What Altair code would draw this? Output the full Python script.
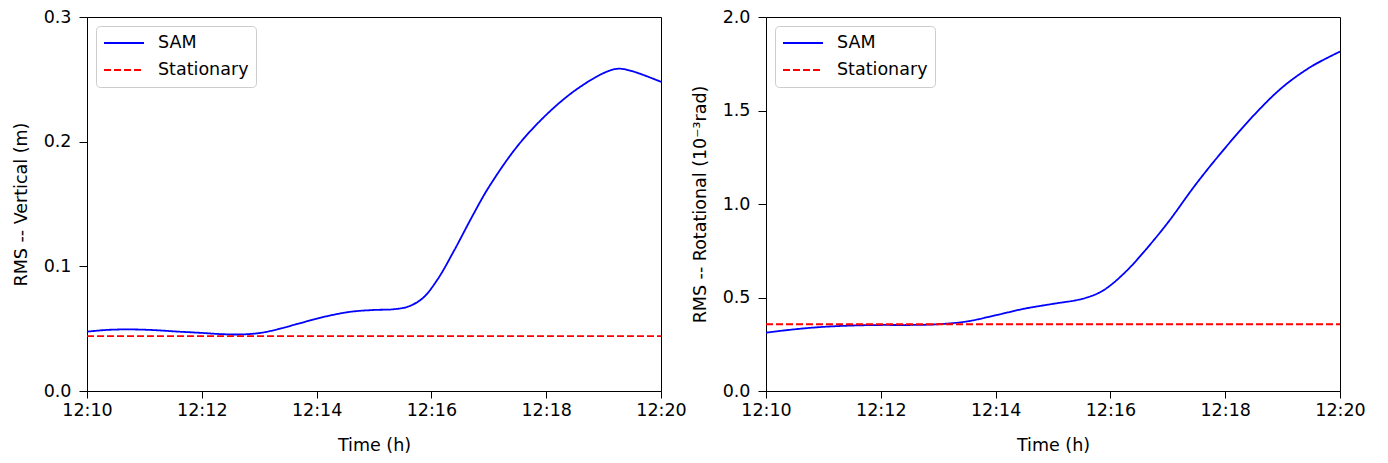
import altair as alt
import pandas as pd

# ---- data ----
minutes_v = [10.0, 10.35, 10.7, 11.1, 11.6, 12.0, 12.35, 12.7, 13.05, 13.4, 13.8, 14.2, 14.6,
             15.0, 15.35, 15.6, 15.85, 16.1, 16.4, 16.7, 17.0, 17.5, 18.0, 18.5, 19.0, 19.25,
             19.5, 20.0]
sam_vertical = [0.0476, 0.0490, 0.0494, 0.0490, 0.0476, 0.0466, 0.0456, 0.0454, 0.0468, 0.0505,
                0.0555, 0.0602, 0.0636, 0.0650, 0.0656, 0.0678, 0.0745, 0.0890, 0.1130, 0.1391,
                0.1635, 0.1965, 0.2215, 0.2410, 0.2550, 0.2585, 0.2565, 0.2480]
stat_vertical = 0.044

minutes_r = [10.0, 10.5, 11.0, 11.5, 12.0, 12.5, 13.0, 13.5, 14.0, 14.5, 15.0, 15.5, 15.8, 16.0,
             16.3, 16.6, 17.0, 17.5, 18.0, 18.5, 19.0, 19.5, 20.0]
sam_rotational = [0.312, 0.330, 0.343, 0.350, 0.353, 0.353, 0.357, 0.372, 0.405, 0.440, 0.466,
                  0.492, 0.525, 0.565, 0.648, 0.750, 0.900, 1.110, 1.300, 1.475, 1.625, 1.735, 1.815]
stat_rotational = 0.357

x_ticks = [10, 12, 14, 16, 18, 20]
series_names = ["SAM", "Stationary"]
series_colors = ["#0000ff", "#ff0000"]

FONT = "DejaVu Sans"
FS = 17.5


def make_df(mins, vals, stat):
    rows = [{"t": m, "v": v, "series": "SAM"} for m, v in zip(mins, vals)]
    rows += [{"t": mins[0], "v": stat, "series": "Stationary"},
             {"t": mins[-1], "v": stat, "series": "Stationary"}]
    return pd.DataFrame(rows)


def panel(df, ytitle, ydomain, yticks):
    return alt.Chart(df).mark_line(strokeWidth=1.8, interpolate="catmull-rom").encode(
        x=alt.X("t:Q", scale=alt.Scale(domain=[10, 20], nice=False, zero=False),
                axis=alt.Axis(values=x_ticks, labelExpr="'12:' + datum.value",
                              title="Time (h)", tickSize=7, labelPadding=3,
                              titlePadding=18, labelFlush=False)),
        y=alt.Y("v:Q", scale=alt.Scale(domain=ydomain, nice=False),
                axis=alt.Axis(values=yticks, format=".1f", title=ytitle,
                              tickSize=8, labelPadding=8, titlePadding=13,
                              labelFlush=False)),
        color=alt.Color("series:N",
                        scale=alt.Scale(domain=series_names, range=series_colors),
                        legend=alt.Legend(title=None, orient="top-left", offset=9)),
        strokeDash=alt.StrokeDash("series:N",
                                  scale=alt.Scale(domain=series_names, range=[[1, 0], [7, 3]]),
                                  legend=alt.Legend(title=None, orient="top-left", offset=9)),
    ).properties(width=574, height=374)


left = panel(make_df(minutes_v, sam_vertical, stat_vertical),
             "RMS -- Vertical (m)", [0, 0.3], [0.0, 0.1, 0.2, 0.3])
right = panel(make_df(minutes_r, sam_rotational, stat_rotational),
              "RMS -- Rotational (10⁻³rad)", [0, 2.0], [0.0, 0.5, 1.0, 1.5, 2.0])

chart = alt.hconcat(left, right, spacing=105, bounds="flush").resolve_scale(
    color="independent", strokeDash="independent"
).resolve_legend(color="independent", strokeDash="independent").properties(
    padding={"left": 3, "top": -1, "right": 5, "bottom": 5}
).configure(font=FONT).configure_view(
    stroke="black", strokeWidth=1
).configure_axis(
    grid=False, domainColor="black", tickColor="black", labelColor="black",
    titleColor="black", labelFontSize=FS, titleFontSize=FS, titleFontWeight="normal",
    labelFont=FONT, titleFont=FONT, domainWidth=1, tickWidth=1
).configure_legend(
    labelFontSize=FS, labelFont=FONT, labelColor="black",
    symbolType="stroke", symbolSize=1600, symbolStrokeWidth=1.8,
    clipHeight=20, rowPadding=7, labelOffset=13,
    fillColor="white", strokeColor="#cccccc", cornerRadius=4, padding=7
)

chart.save("out.html", embed_options={"renderer": "svg", "actions": False})
